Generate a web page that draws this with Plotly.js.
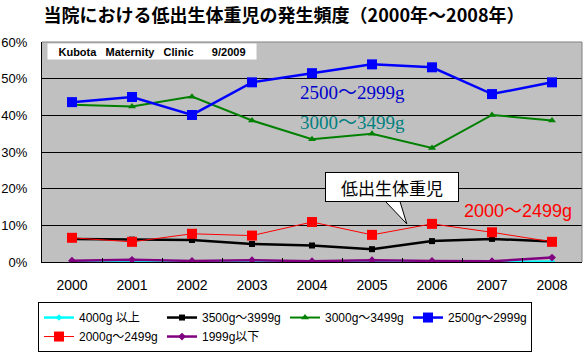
<!DOCTYPE html>
<html><head><meta charset="utf-8">
<script src="https://cdn.plot.ly/plotly-3.0.1.min.js"></script>
<style>body{margin:0;background:#fff}#c{width:587px;height:360px}</style>
</head><body><div id="c"></div>
<script>
const years = ['2000','2001','2002','2003','2004','2005','2006','2007','2008'];
const seriesNames = ['4000g 以上','3500g～3999g','3000g～3499g','2500g～2999g','2000g～2499g','1999g以下'];
const over4000   = [0.1, 0.2, 0.1, 0.0, 0.0, 0.2, 0.1, 0.0, 0.1];
const g3500_3999 = [6.3, 6.1, 6.0, 4.9, 4.5, 3.5, 5.7, 6.3, 5.6];
const g3000_3499 = [42.9, 42.4, 45.1, 38.6, 33.5, 35.0, 31.1, 40.1, 38.6];
const g2500_2999 = [43.6, 45.0, 40.1, 49.0, 51.5, 53.9, 53.1, 45.8, 49.0];
const g2000_2499 = [6.6, 5.5, 7.7, 7.2, 10.9, 7.4, 10.4, 8.1, 5.5];
const under1999  = [0.35, 0.6, 0.3, 0.5, 0.2, 0.5, 0.3, 0.2, 1.2];

const yTicks = [0,10,20,30,40,50,60];

const traces = [
  {y: over4000, name: seriesNames[0], line:{color:'#00FFFF', width:2.5}, marker:{symbol:'diamond', size:5, color:'#00FFFF'}},
  {y: g3500_3999, name: seriesNames[1], line:{color:'#000000', width:2.5}, marker:{symbol:'square', size:6, color:'#000000'}},
  {y: g3000_3499, name: seriesNames[2], line:{color:'#008000', width:2}, marker:{symbol:'triangle-up', size:7, color:'#008000'}},
  {y: g2500_2999, name: seriesNames[3], line:{color:'#0000FF', width:2.5}, marker:{symbol:'square', size:10, color:'#0000FF'}},
  {y: g2000_2499, name: seriesNames[4], line:{color:'#FF0000', width:1}, marker:{symbol:'square', size:10, color:'#FF0000'}},
  {y: under1999, name: seriesNames[5], line:{color:'#800080', width:2.5}, marker:{symbol:'diamond', size:6, color:'#800080'}}
].map(t => Object.assign({x: years, type:'scatter', mode:'lines+markers'}, t));

const fontSans = 'Liberation Sans, Arial, Noto Sans CJK JP, sans-serif';
const fontJP = 'Noto Sans CJK JP, sans-serif';

const layout = {
  width:587, height:360,
  margin:{l:42, r:5, t:42, b:98, autoexpand:false},
  paper_bgcolor:'#FFFFFF', plot_bgcolor:'#C0C0C0',
  font:{family:fontSans, size:14, color:'#000'},
  title:{text:'当院における低出生体重児の発生頻度（2000年～2008年）', font:{family:fontJP, size:18, color:'#000', weight:'bold'},
         x:0.484, xanchor:'center', xref:'container', y:1-16/360, yanchor:'middle', yref:'container'},
  xaxis:{type:'category', range:[-0.5, 8.5], showgrid:false, showline:true, linecolor:'#000', linewidth:1,
         ticks:'inside', tickson:'boundaries', ticklen:4, tickcolor:'#000', ticklabelstandoff:10,
         tickfont:{family:fontSans, size:14}, zeroline:false, fixedrange:true},
  yaxis:{range:[0,60], tickvals:yTicks, ticktext:yTicks.map(v=>v+'%'), showgrid:true, gridcolor:'#000', gridwidth:1,
         showline:true, linecolor:'#000', linewidth:1, ticks:'', ticklabelstandoff:11, zeroline:false,
         tickfont:{family:fontSans, size:13}, fixedrange:true},
  showlegend:true,
  legend:{orientation:'h', x:-0.0074, xanchor:'left', y:-0.182, yanchor:'top', bgcolor:'#FFF', bordercolor:'#000', borderwidth:1,
          font:{family:fontSans, size:12}, entrywidth:78, entrywidthmode:'pixels', itemwidth:30, tracegroupgap:0, traceorder:'normal'},
  shapes:[
    {type:'line', xref:'paper', yref:'paper', x0:0, x1:1, y0:1, y1:1, line:{color:'#808080', width:1}},
    {type:'line', xref:'paper', yref:'paper', x0:1, x1:1, y0:0, y1:1, line:{color:'#808080', width:1}},
    {type:'path', xref:'x', yref:'y', path:'M 5.08 19 L 5.42 19 L 5.58 10.4 Z', fillcolor:'#FFFFFF', line:{color:'#000', width:1}, layer:'above'}
  ],
  annotations:[
    {xref:'paper', yref:'paper', x:0.2037, y:0.958, xanchor:'center', yanchor:'middle', text:'<b>Kubota   Maternity   Clinic      9/2009</b>', showarrow:false,
     bgcolor:'#FFFFFF', width:206, height:13, borderpad:1, font:{family:fontSans, size:11, color:'#000'}},
    {xref:'x', yref:'y', x:4.68, y:46.2, text:'2500～2999g', showarrow:false, font:{family:'Liberation Serif, Noto Sans CJK JP, serif', size:19, color:'#0000CC'}},
    {xref:'x', yref:'y', x:4.68, y:38.0, text:'3000～3499g', showarrow:false, font:{family:'Liberation Serif, Noto Sans CJK JP, serif', size:19, color:'#008080'}},
    {xref:'x', yref:'y', x:7.43, y:13.8, text:'2000～2499g', showarrow:false, font:{family:fontSans, size:18, color:'#FF0000'}},
    {xref:'x', yref:'y', x:5.325, y:20.4, text:'低出生体重児', showarrow:false, bgcolor:'#FFFFFF', bordercolor:'#000', borderwidth:1,
     borderpad:3, width:126, height:22, font:{family:fontJP, size:17, color:'#000'}}
  ]
};

Plotly.newPlot('c', traces, layout, {staticPlot:true, displayModeBar:false});
</script></body></html>
